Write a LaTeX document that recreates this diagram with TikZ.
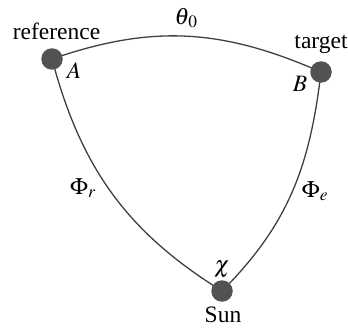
\documentclass[tikz,border=0pt]{standalone}
\usepackage{mathptmx}
\usepackage{fontspec}
\setmainfont{Liberation Serif}
\begin{document}
\begin{tikzpicture}[x=1pt,y=-1pt,
  font=\fontsize{23.5}{28}\selectfont,
  dot/.style={circle,fill=black!68,inner sep=0pt,minimum size=21.5pt},
  arcline/.style={draw=black!75,line width=1.3pt},
  lbl/.style={inner sep=0pt,anchor=center}]
\useasboundingbox (0,0) rectangle (348,329);
\coordinate (A) at (52,59);
\coordinate (B) at (321,72);
\coordinate (S) at (222,291);
\draw[arcline] (A) .. controls (153,24) and (223,29) .. (B);
\draw[arcline] (A) .. controls (81,168) and (127,232) .. (S);
\draw[arcline] (B) .. controls (310,165) and (289,224) .. (S);
\node[dot] (dA) at (A) {};
\node[dot] (dB) at (B) {};
\node[dot] (dS) at (S) {};
\node[lbl] (ref) at (56.5,31.5) {reference};
\node[lbl] (tgt) at (321,44) {target};
\node[lbl] (sun) at (223,315) {Sun};
\node[lbl] (th) at (186,18) {$\theta_{\kern1.5pt 0}$};
\node[lbl] (la) at (74,71) {$A$};
\node[lbl] (lb) at (300,84) {$B$};
\node[lbl] (pr) at (83,188) {$\Phi_r$};
\node[lbl] (pe) at (315,191) {$\Phi_e$};
\node[lbl] (chi) at (222,269) {$\chi$};
\end{tikzpicture}
\end{document}
